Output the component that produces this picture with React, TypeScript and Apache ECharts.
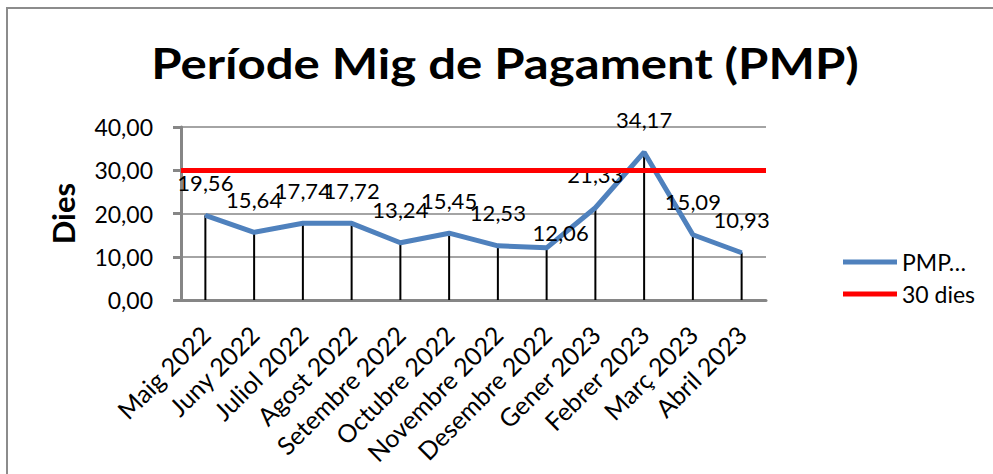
import React, { useEffect, useRef } from 'react';
import * as echarts from 'echarts';

const categories = [
  'Maig 2022',
  'Juny 2022',
  'Juliol 2022',
  'Agost 2022',
  'Setembre 2022',
  'Octubre 2022',
  'Novembre 2022',
  'Desembre 2022',
  'Gener 2023',
  'Febrer 2023',
  'Març 2023',
  'Abril 2023',
];
const pmpValues = [19.56, 15.64, 17.74, 17.72, 13.24, 15.45, 12.53, 12.06, 21.33, 34.17, 15.09, 10.93];
const thresholdValue = 30;
const yMin = 0;
const yMax = 40;
const yStep = 10;
const seriesNames = ['PMP…', '30 dies'];
const titleText = 'Període Mig de Pagament (PMP)';
const yAxisName = 'Dies';

const fmt = (v: number) => Number(v).toFixed(2).replace('.', ',');

const FONT = 'Lato';
const AXIS_GRAY = '#868686';

export default function App() {
  const ref = useRef<HTMLDivElement>(null);

  useEffect(() => {
    if (!ref.current) return;
    const chart = echarts.init(ref.current, undefined, { renderer: 'svg' });
    const option: any = {
      animation: false,
      backgroundColor: '#ffffff',
      textStyle: { fontFamily: FONT },
      grid: { left: 181, right: 227, top: 127, bottom: 174 },
      legend: {
        orient: 'vertical',
        left: 838,
        top: 241,
        itemWidth: 54,
        itemHeight: 5,
        itemGap: 0,
        data: [
          { name: seriesNames[0], icon: 'rect' },
          { name: seriesNames[1], icon: 'rect' },
        ],
        textStyle: { fontFamily: FONT, fontSize: 23, lineHeight: 32, color: '#000' },
      },
      xAxis: {
        type: 'category',
        data: categories,
        boundaryGap: true,
        axisLine: { lineStyle: { color: AXIS_GRAY, width: 3 } },
        axisTick: { length: 8, lineStyle: { color: AXIS_GRAY, width: 3 } },
        axisLabel: { rotate: 45, margin: 30, interval: 0, fontSize: 25, color: '#000', fontFamily: FONT },
      },
      yAxis: {
        type: 'value',
        min: yMin,
        max: yMax,
        interval: yStep,
        name: yAxisName,
        nameLocation: 'middle',
        nameGap: 103,
        nameTextStyle: { fontFamily: FONT, fontSize: 31, fontWeight: 'bold', color: '#000' },
        axisLine: { show: true, lineStyle: { color: AXIS_GRAY, width: 3 } },
        axisTick: { show: true, length: 8, lineStyle: { color: AXIS_GRAY, width: 3 } },
        axisLabel: { formatter: (v: number) => fmt(v), margin: 28, fontSize: 23, color: '#000', fontFamily: FONT },
        splitLine: { lineStyle: { color: AXIS_GRAY, width: 1.5 } },
      },
      graphic: [
        {
          type: 'rect',
          silent: true,
          shape: { x: 7, y: 8, width: 2000, height: 2000 },
          style: { fill: 'none', stroke: '#8c8c8c', lineWidth: 2 },
        },
        {
          type: 'text',
          silent: true,
          x: 505,
          y: 63,
          scaleX: 1.17,
          style: {
            text: titleText,
            fill: '#000',
            font: `bold 42px ${FONT}`,
            textAlign: 'center',
            textVerticalAlign: 'middle',
          },
        },
      ],
      series: [
        {
          type: 'bar',
          name: 'drop',
          data: pmpValues,
          barWidth: 2,
          itemStyle: { color: '#000' },
          silent: true,
          z: 1,
        },
        {
          type: 'line',
          name: seriesNames[1],
          data: [],
          color: '#FF0000',
          itemStyle: { color: '#FF0000' },
          lineStyle: { color: '#FF0000', width: 5 },
          markLine: {
            silent: true,
            symbol: ['none', 'none'],
            label: { show: false },
            lineStyle: { color: '#FF0000', width: 5, type: 'solid' },
            data: [{ yAxis: thresholdValue }],
          },
          z: 2,
        },
        {
          type: 'line',
          name: seriesNames[0],
          data: pmpValues.map((v, i) => (i === 7 ? { value: v, label: { offset: [14, 18] } } : v)),
          color: '#4F81BD',
          symbol: 'circle',
          symbolSize: 2,
          itemStyle: { color: '#4F81BD' },
          lineStyle: { color: '#4F81BD', width: 5 },
          label: {
            show: true,
            position: 'top',
            distance: 21,
            formatter: (p: any) => fmt(p.value),
            fontSize: 22,
            color: '#000',
            fontFamily: FONT,
          },
          z: 3,
        },
      ],
    };
    chart.setOption(option);
    return () => chart.dispose();
  }, []);

  return (
    <div
      ref={ref}
      style={{ position: 'fixed', left: 0, top: 0, width: 993, height: 474, background: '#fff' }}
    />
  );
}
